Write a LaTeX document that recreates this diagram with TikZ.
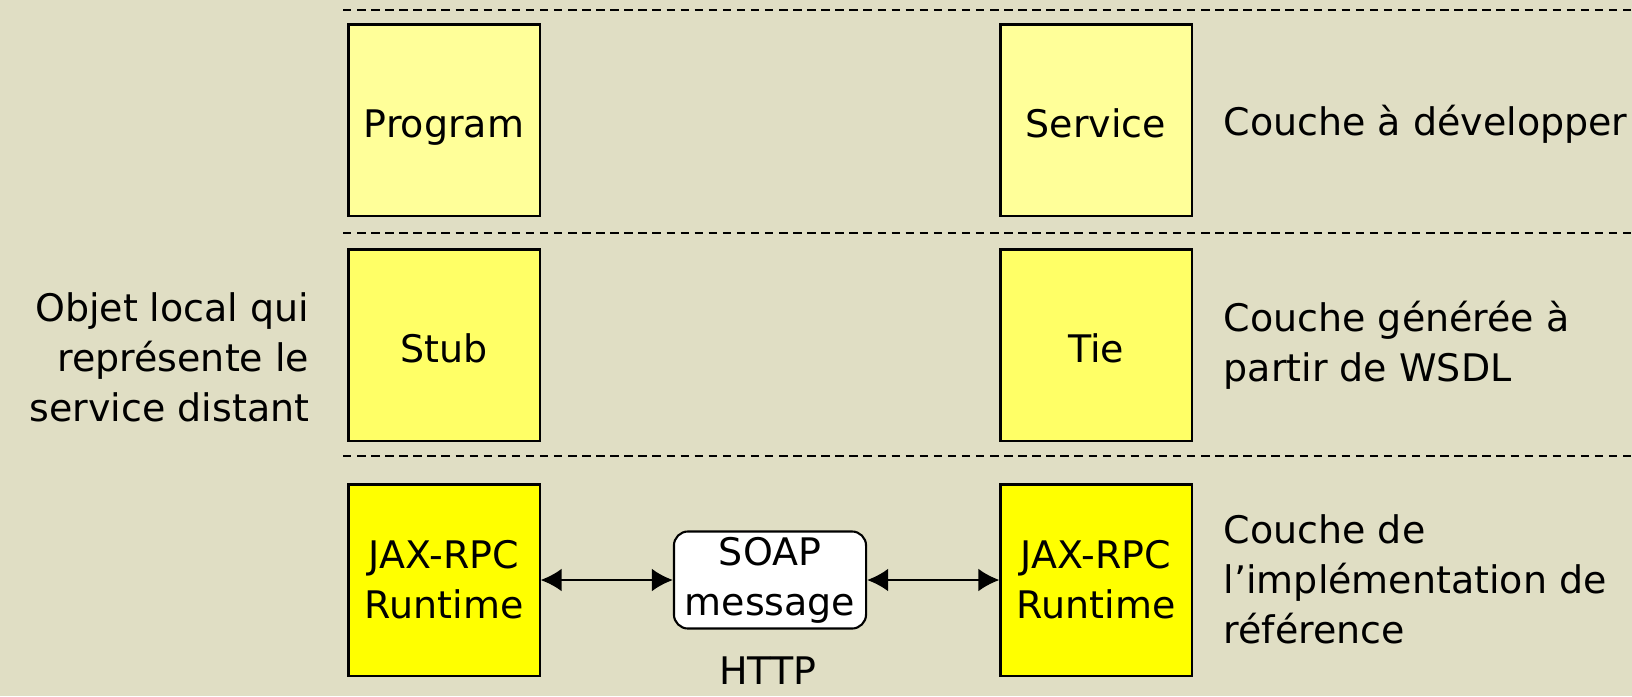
\documentclass[tikz,border=0pt]{standalone}
\usepackage{fontspec}
\setmainfont{DejaVu Sans}
\usetikzlibrary{arrows.meta,positioning}

\definecolor{bgbeige}{RGB}{224,222,196}
\definecolor{devyellow}{RGB}{255,255,153}
\definecolor{genyellow}{RGB}{255,255,102}
\definecolor{rtyellow}{RGB}{255,255,0}

\begin{document}
\begin{tikzpicture}[x=0.01cm, y=-0.01cm, >={Latex[length=6pt,width=6.5pt]},
  every node/.append style={font=\fontsize{10.8}{14.2}\selectfont},
  layer/.style={draw, line width=0.6pt, minimum width=1.91cm, minimum height=1.91cm, align=center, inner sep=0pt},
  oneline/.style={text height=1.0em, text depth=0pt},
  note/.style={align=left, inner sep=0pt}]
  % Background
  \fill[bgbeige] (0,0) rectangle (1632,696);
  \useasboundingbox (0,0) rectangle (1632,696);

  % Layer separators
  \foreach \y in {10,233,456} { \draw[line width=0.7pt, dash pattern=on 2.4pt off 1.6pt] (343,\y) -- (1632,\y); }

  % Developed layer
  \node[layer, oneline, fill=devyellow] (program) at (444,120) {Program};
  \node[layer, oneline, fill=devyellow] (service) at (1096,120) {Service};
  \node[note, anchor=west] (devnote) at (1223,124) {Couche à développer};

  % Generated layer
  \node[layer, oneline, fill=genyellow] (stub) at (444,345) {Stub};
  \node[layer, oneline, fill=genyellow] (tie) at (1096,345) {Tie};
  \node[note, anchor=west] (gennote) at (1223,345) {Couche générée à\\partir de WSDL};
  \node[note, align=right, anchor=east] (stubnote) at (310,357) {Objet local qui\\représente le\\service distant};

  % Runtime layer
  \node[layer, fill=rtyellow] (rtleft) at (444,580) {JAX-RPC\\Runtime};
  \node[layer, fill=rtyellow] (rtright) at (1096,580) {JAX-RPC\\Runtime};
  \node[draw, line width=0.6pt, fill=white, rounded corners=4pt, minimum width=1.92cm, minimum height=0.97cm, align=center, inner sep=0pt] (soap) at (770,580) {SOAP\\message};
  \node (http) at (768,671) {HTTP};
  \node[note, anchor=west] (rtnote) at (1223,579) {Couche de\\l'implémentation de\\référence};

  \draw[<->, line width=0.6pt] (rtleft) -- (soap);
  \draw[<->, line width=0.6pt] (soap) -- (rtright);
\end{tikzpicture}
\end{document}
